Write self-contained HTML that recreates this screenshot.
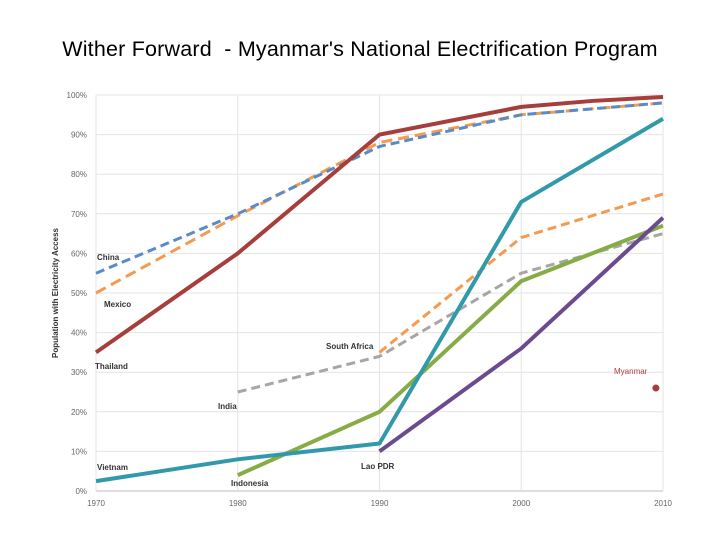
<!DOCTYPE html>
<html><head><meta charset="utf-8"><style>
body{margin:0;background:#fff;width:720px;height:540px;overflow:hidden;font-family:"Liberation Sans",sans-serif}
#title{position:absolute;left:0;top:37px;width:720px;text-align:center;font-size:21.5px;color:#000;letter-spacing:0.2px}
svg{position:absolute;left:0;top:0}
</style></head><body>
<div id="title">Wither Forward&nbsp; - Myanmar's National Electrification Program</div>
<svg id="chart" width="720" height="540"></svg>
<script>
const years=[1970,1980,1990,2000,2010];
const yTicks=[0,10,20,30,40,50,60,70,80,90,100];
const thailandX=[1970,1980,1990,2000,2005,2010];
const thailand=[35,60,90,97,98.5,99.5];
const china=[55,70,87,95,98];
const mexico=[50,69.5,88,95,98];
const southAfricaX=[1990,2000,2010];
const southAfrica=[35,64,75];
const indiaX=[1980,1990,2000,2010];
const india=[25,34,55,65];
const indonesiaX=[1980,1990,2000,2010];
const indonesia=[4,20,53,67];
const vietnam=[2.5,8,12,73,94];
const laoX=[1990,2000,2010];
const lao=[10,36,69];
const myanmarX=[2009.5];
const myanmar=[26];
const NS="http://www.w3.org/2000/svg";
const svg=document.getElementById('chart');
const x0=96,x1=663,y0=491,y1=95;
const X=v=>x0+(v-1970)/40*(x1-x0);
const Y=v=>y0-v/100*(y0-y1);
function mk(t,a){const e=document.createElementNS(NS,t);for(const k in a)e.setAttribute(k,a[k]);svg.appendChild(e);return e;}
yTicks.forEach(t=>{
 const l=mk('line',{x1:x0,x2:x1,y1:Y(t),y2:Y(t),stroke:t==0?'#bbb':'#e4e4e4','stroke-width':1});
 
 
 const tx=mk('text',{x:87,y:Y(t)+3,'text-anchor':'end','font-size':8,fill:'#666'});tx.textContent=t+'%';
 
 
});
years.forEach(yr=>{
 const l=mk('line',{x1:X(yr),x2:X(yr),y1:y1,y2:y0,stroke:'#e4e4e4','stroke-width':1});
 
 
 const tx=mk('text',{x:X(yr),y:506,'text-anchor':'middle','font-size':8,fill:'#666'});tx.textContent=yr;
 
 
});
const yt=mk('text',{x:0,y:0,'font-size':8,'font-weight':'bold',fill:'#333','text-anchor':'middle',transform:'translate(58,293) rotate(-90)'});
yt.textContent='Population with Electricity Access';


function series(name,xs,vs,color,w,dash){
 const p=mk('polyline',{points:xs.map((x,i)=>X(x)+','+Y(vs[i])).join(' '),fill:'none',stroke:color,'stroke-width':w,'stroke-dasharray':dash||'none','stroke-linejoin':'round'});
 
 
}
series('india',indiaX,india,'#a6a6a6',3,'9,5');
series('south-africa',southAfricaX,southAfrica,'#f59a4e',3,'9,5');
series('mexico',years,mexico,'#f59a4e',3,'11,6');
series('china',years,china,'#5b8bc7',3,'9,5');
series('indonesia',indonesiaX,indonesia,'#86ad45',4);
series('lao-pdr',laoX,lao,'#6b4a8f',4);
series('vietnam',years,vietnam,'#3299ab',4);
series('thailand',thailandX,thailand,'#a63f3b',4);
const d=mk('circle',{cx:X(myanmarX[0]),cy:Y(myanmar[0]),r:3.5,fill:'#a63f3b'});


const labels=[['China',97,260,'#333'],['Mexico',104,307,'#333'],['Thailand',95,369,'#333'],['South Africa',326,349,'#333'],['India',218,409,'#333'],['Vietnam',97,470,'#333'],['Lao PDR',361,469,'#333'],['Indonesia',231,486,'#333'],['Myanmar',614,374,'#b0403d']];
labels.forEach(l=>{
 const t=mk('text',{x:l[1],y:l[2],'font-size':8,'font-weight':l[0]=='Myanmar'?'normal':'bold',fill:l[3]});t.textContent=l[0];
 
 
});
</script>
</body></html>
